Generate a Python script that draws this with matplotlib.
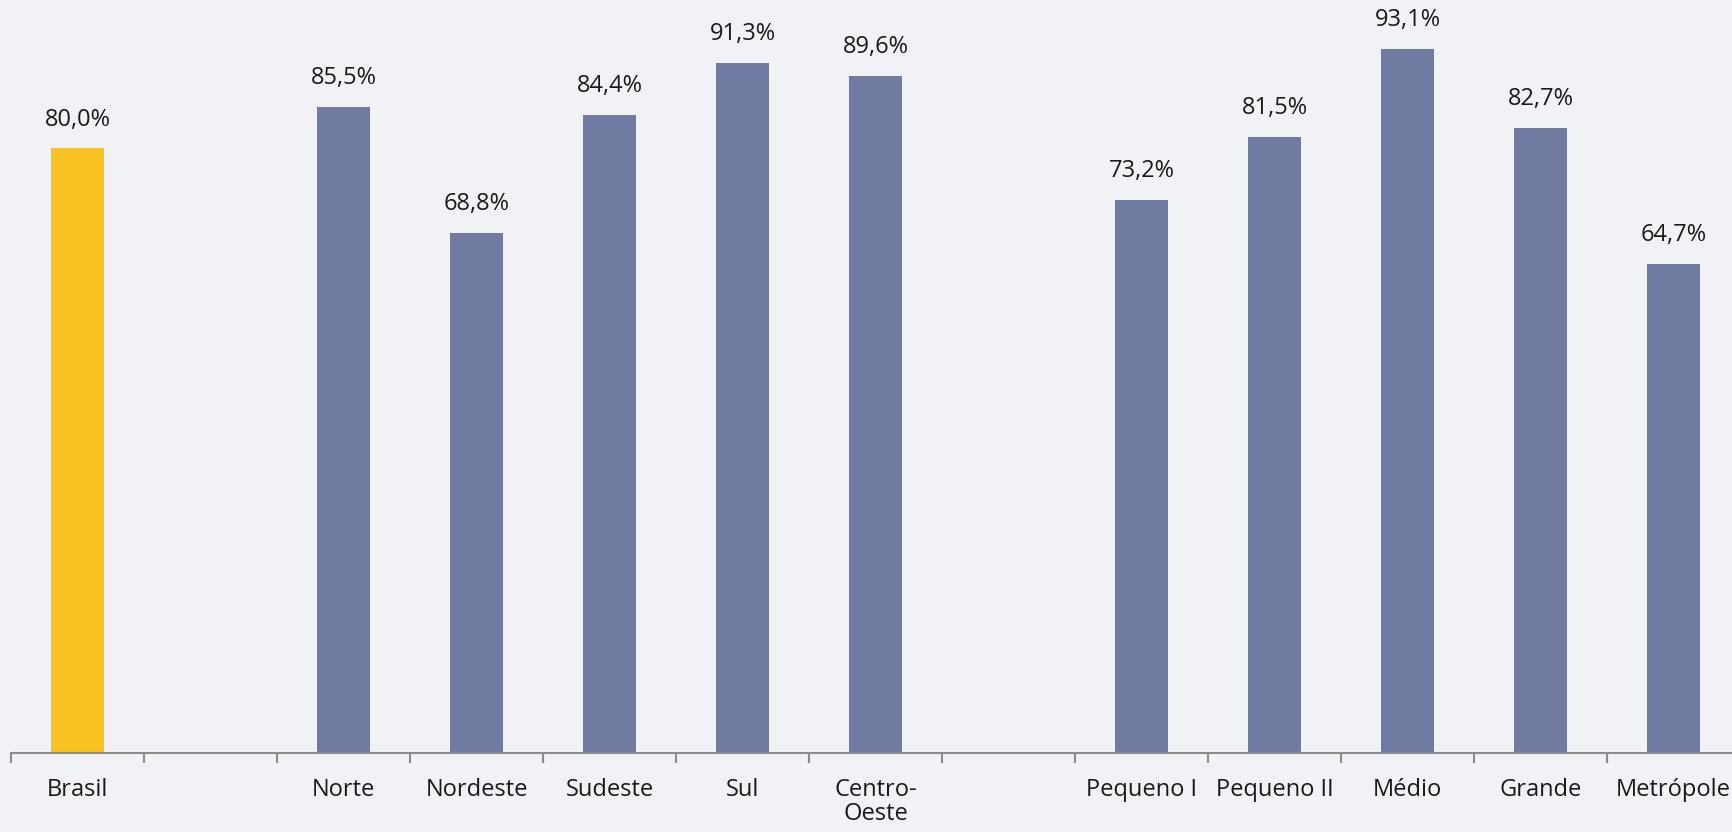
import numpy as np
import matplotlib.pyplot as plt

plt.rcParams['font.family'] = ['Open Sans', 'DejaVu Sans']

categories = ['Brasil', '', 'Norte', 'Nordeste', 'Sudeste', 'Sul', 'Centro-\nOeste',
              '', 'Pequeno I', 'Pequeno II', 'Médio', 'Grande', 'Metrópole']
values = [80.0, np.nan, 85.5, 68.8, 84.4, 91.3, 89.6,
          np.nan, 73.2, 81.5, 93.1, 82.7, 64.7]
highlight = ['Brasil']

bg = '#f1f2f6'
fig = plt.figure(figsize=(17.32, 8.32), dpi=100, facecolor=bg)
ax = fig.add_axes([11 / 1732, 79 / 832, 1729 / 1732, 753 / 832], facecolor=bg)

x = np.arange(len(categories))
colors = ['#f7c221' if c in highlight else '#717ba2' for c in categories]
ax.bar(x, np.nan_to_num(values), width=0.4, color=colors)

# data labels above bars, decimal comma
for xi, v in zip(x, values):
    if np.isnan(v):
        continue
    ax.annotate(f'{v:.1f}%'.replace('.', ','), (xi, v), xytext=(0, 12),
                textcoords='offset points', ha='center', va='bottom',
                fontsize=17, color='#1a1a1a')

ax.set_xlim(-0.5, len(categories) - 0.5)
ax.set_ylim(0, 99.6)
ax.set_xticks(x)
ax.set_xticklabels(categories, fontsize=17, color='#1a1a1a', linespacing=1.0)
ax.set_xticks(np.arange(len(categories) + 1) - 0.5, minor=True)
ax.tick_params(axis='x', which='major', length=0, pad=18)
ax.tick_params(axis='x', which='minor', length=7, width=1.5, color='#8c8c8c')
ax.set_yticks([])
for s in ['top', 'right', 'left']:
    ax.spines[s].set_visible(False)
ax.spines['bottom'].set_color('#8c8c8c')
ax.spines['bottom'].set_linewidth(1.5)

fig.savefig('out.png', dpi=100, facecolor=bg)
